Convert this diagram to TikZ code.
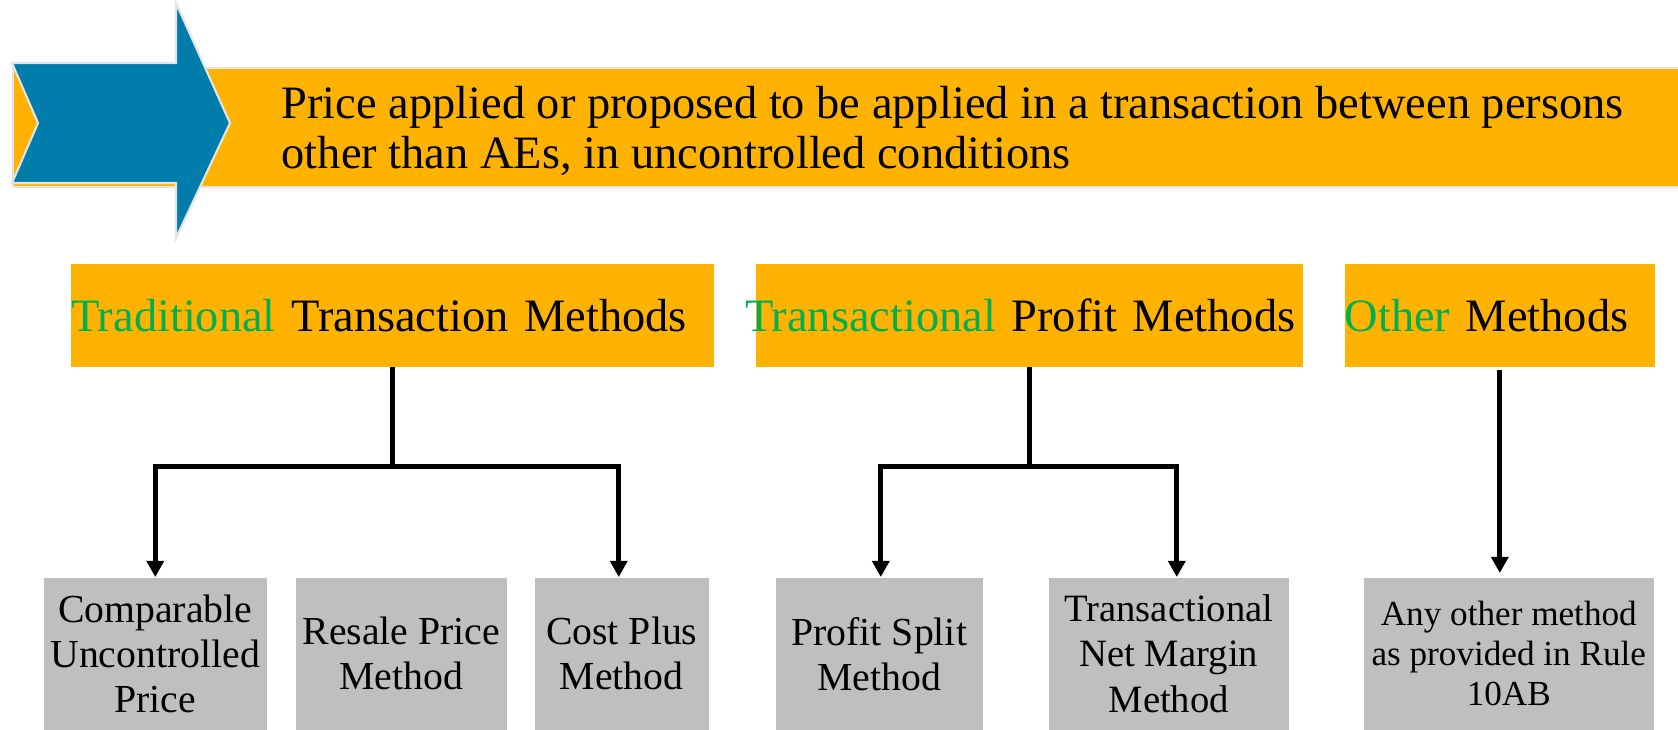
\documentclass[tikz,border=0pt]{standalone}
\usepackage{fontspec}
\setmainfont{Liberation Serif}
\usetikzlibrary{arrows.meta}
\definecolor{bandorange}{HTML}{FFB300}
\definecolor{chevblue}{HTML}{007DAA}
\definecolor{boxgray}{HTML}{BFBFBF}
\definecolor{keygreen}{HTML}{00B050}
\definecolor{edgegray}{HTML}{E4E4E4}
\newcommand{\hl}[1]{\textcolor{keygreen}{#1}}
\begin{document}
\begin{tikzpicture}[x=0.01cm,y=-0.01cm,
  catbox/.style={fill=bandorange, inner sep=0pt, anchor=north west,
    minimum height=1.03cm, align=left,
    font=\fontsize{13.2}{15}\selectfont},
  methodbox/.style={fill=boxgray, inner sep=0pt, anchor=north west,
    minimum height=1.52cm, align=center,
    font=\fontsize{11.3}{12.8}\selectfont},
  link/.style={line width=1.35pt, line join=miter},
  linkarrow/.style={link, -{Triangle[length=4.6pt,width=4.8pt]}}
]
\useasboundingbox (0,0) rectangle (1678,729);

% banner band and chevron
\node[fill=bandorange, draw=edgegray, line width=0.6pt, inner sep=0pt,
      anchor=north west, minimum width=16.65cm, minimum height=1.19cm]
      (banner) at (12,67) {};
\fill[chevblue, draw=edgegray, line width=0.6pt, line join=miter]
  (12,63) -- (176,63) -- (176,3) -- (230,123) -- (176,238)
  -- (176,183) -- (12,183) -- (38,123) -- cycle;
\node[anchor=north west, inner sep=0pt, align=left,
      font=\fontsize{13.2}{14.2}\selectfont] (bannertext) at (281,86)
  {Price applied or proposed to be applied in a transaction between persons\\
   other than AEs, in uncontrolled conditions};

% method families
\node[catbox, minimum width=6.425cm, text width=6.425cm] (tradbox) at (70.5,263)
  {\hl{Traditional} Transaction Methods};
\node[catbox, minimum width=5.47cm, text width=5.47cm] (profbox) at (755,263)
  {\hspace*{-3pt}\hl{Transactional} Profit Methods};
\node[catbox, minimum width=3.10cm, text width=3.10cm] (othbox) at (1344,263)
  {\hl{Other} Methods};

% individual methods
\node[methodbox, minimum width=2.23cm] (cup) at (43,577)
  {Comparable\\Uncontrolled\\Price};
\node[methodbox, minimum width=2.11cm] (rpm) at (295,577)
  {Resale Price\\Method};
\node[methodbox, minimum width=1.74cm] (cpm) at (534,577)
  {Cost Plus\\Method};
\node[methodbox, minimum width=2.07cm] (psm) at (775,577)
  {Profit Split\\Method};
\node[methodbox, minimum width=2.40cm, font=\fontsize{11}{12.8}\selectfont] (tnmm) at (1048,577)
  {Transactional\\Net Margin\\Method};
\node[methodbox, minimum width=2.90cm, font=\fontsize{10}{11.4}\selectfont] (anyo) at (1363,577)
  {Any other method\\as provided in Rule\\10AB};

% connectors
\draw[link] (tradbox.south) -- ++(0,99) coordinate (j1);
\draw[linkarrow] (j1) -| (cup.north);
\draw[linkarrow] (j1) -| ([xshift=-0.03cm]cpm.north);
\draw[link] (profbox.south) -- ++(0,99) coordinate (j2);
\draw[linkarrow] (j2) -| ([xshift=0.015cm]psm.north);
\draw[linkarrow] (j2) -| ([xshift=0.08cm]tnmm.north);
\draw[linkarrow, shorten >=0.04cm] ([yshift=-0.03cm]othbox.south) -- (othbox.south |- anyo.north);
\end{tikzpicture}
\end{document}
